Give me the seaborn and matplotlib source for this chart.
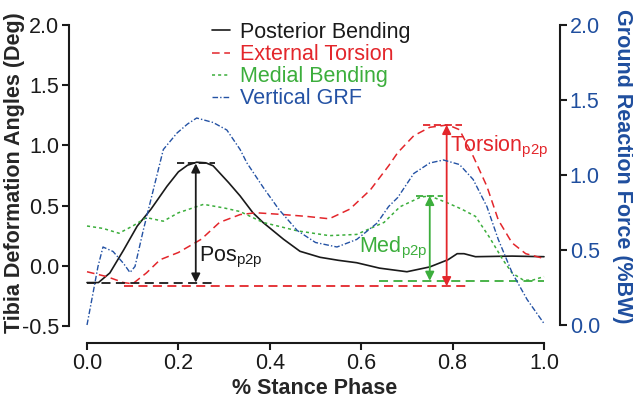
import numpy as np
import pandas as pd
import seaborn as sns
import matplotlib
matplotlib.use("Agg")
import matplotlib.pyplot as plt
from matplotlib.lines import Line2D

# values
pos_x = [0.0, 0.025, 0.05, 0.08, 0.11, 0.14, 0.175, 0.20, 0.22, 0.24, 0.26, 0.276, 0.31, 0.335,
         0.363, 0.385, 0.43, 0.466, 0.51, 0.55, 0.59, 0.64, 0.70, 0.75, 0.79, 0.81, 0.825,
         0.85, 0.93, 1.0]
pos_y = [-0.14, -0.14, -0.06, 0.13, 0.33, 0.47, 0.66, 0.78, 0.835, 0.86, 0.855, 0.83, 0.69, 0.58,
         0.44, 0.36, 0.22, 0.12, 0.07, 0.045, 0.025, -0.02, -0.05, -0.01, 0.05, 0.10, 0.10,
         0.075, 0.08, 0.075]

tor_x = [0.0, 0.043, 0.08, 0.10, 0.13, 0.16, 0.20, 0.25, 0.29, 0.335, 0.37, 0.43, 0.48, 0.53,
         0.575, 0.62, 0.66, 0.68, 0.715, 0.75, 0.79, 0.815, 0.845, 0.875, 0.90, 0.93, 0.96, 1.0]
tor_y = [-0.05, -0.09, -0.14, -0.15, -0.06, 0.05, 0.11, 0.22, 0.36, 0.425, 0.44, 0.425, 0.41, 0.39,
         0.47, 0.63, 0.83, 0.94, 1.08, 1.15, 1.17, 1.13, 0.91, 0.66, 0.38, 0.19, 0.10, 0.06]

med_x = [0.0, 0.035, 0.07, 0.10, 0.13, 0.167, 0.20, 0.255, 0.30, 0.335, 0.385, 0.46, 0.53, 0.59,
         0.65, 0.685, 0.73, 0.75, 0.79, 0.82, 0.85, 0.88, 0.91, 0.93, 0.955, 0.975, 1.0]
med_y = [0.33, 0.31, 0.27, 0.33, 0.40, 0.37, 0.44, 0.51, 0.48, 0.45, 0.36, 0.29, 0.25, 0.26,
         0.36, 0.49, 0.57, 0.58, 0.52, 0.47, 0.41, 0.24, 0.05, -0.06, -0.12, -0.12, -0.09]

grf_x = [0.0, 0.013, 0.024, 0.035, 0.057, 0.08, 0.094, 0.105, 0.123, 0.145, 0.167, 0.197, 0.22,
         0.24, 0.276, 0.306, 0.335, 0.35, 0.385, 0.42, 0.46, 0.50, 0.547, 0.59, 0.635, 0.66,
         0.68, 0.715, 0.75, 0.78, 0.815, 0.845, 0.875, 0.90, 0.93, 0.963, 1.0]
grf_y = [0.0, 0.21, 0.39, 0.52, 0.49, 0.41, 0.35, 0.39, 0.63, 0.90, 1.17, 1.28, 1.34,
         1.38, 1.35, 1.30, 1.17, 1.08, 0.92, 0.77, 0.63, 0.55, 0.52, 0.57, 0.68, 0.79,
         0.85, 1.01, 1.08, 1.10, 1.07, 0.97, 0.79, 0.57, 0.35, 0.17, 0.01]

# peak-to-peak markers: arrow x, low, high, peak line x-range, low line x-range
pos_p2p = [0.238, -0.14, 0.85, (0.197, 0.28), (0.0, 0.276)]
tor_p2p = [0.787, -0.17, 1.17, (0.735, 0.82), (0.08, 0.83)]
med_p2p = [0.75, -0.125, 0.58, (0.72, 0.78), (0.64, 1.0)]

labels = ["Posterior Bending", "External Torsion", "Medial Bending", "Vertical GRF"]

black = "#1a1a1a"
red = "#e3262b"
green = "#3cae3c"
blue = "#2452a4"
axblue = "#1f4e9e"

sns.set_style("ticks")
plt.rcParams["font.family"] = ["Liberation Sans", "DejaVu Sans"]
plt.rcParams["mathtext.fontset"] = "custom"
plt.rcParams["mathtext.rm"] = "Liberation Sans"

fs = 15.5
fig = plt.figure(figsize=(6.33, 4.0), dpi=100)
ax = fig.add_axes([69 / 633, 1 - 343 / 400, (560 - 69) / 633, (343 - 25) / 400])
ax2 = ax.twinx()

sns.lineplot(x=pos_x, y=pos_y, ax=ax, color=black, lw=1.2)
sns.lineplot(x=tor_x, y=tor_y, ax=ax, color=red, lw=1.1, linestyle=(0, (5, 3)))
sns.lineplot(x=med_x, y=med_y, ax=ax, color=green, lw=1.1, linestyle=(0, (2, 2)))
sns.lineplot(x=grf_x, y=grf_y, ax=ax2, color=blue, lw=1.0, linestyle=(0, (4, 1.5, 1, 1.5)))

for p2p, c in [(pos_p2p, black), (tor_p2p, red), (med_p2p, green)]:
    xa, lo, hi, hr, lr = p2p
    ax.hlines(hi, hr[0], hr[1], color=c, lw=1.3, linestyle=(0, (4, 2)))
    ax.hlines(lo, lr[0], lr[1], color=c, lw=1.3, linestyle=(0, (5, 3)))
    ax.annotate("", xy=(xa, hi), xytext=(xa, lo),
                arrowprops=dict(arrowstyle="<|-|>", color=c, lw=1.3,
                                mutation_scale=13, shrinkA=0, shrinkB=0))

ax.text(0.245, 0.07, r"$\mathrm{Pos}_{\mathrm{p2p}}$", color=black, fontsize=fs, va="center")
ax.text(0.595, 0.15, r"$\mathrm{Med}_{\mathrm{p2p}}$", color=green, fontsize=fs, va="center")
ax.text(0.795, 0.99, r"$\mathrm{Torsion}_{\mathrm{p2p}}$", color=red, fontsize=fs, va="center")

ax.set_xlim(-0.0394, 1.035)
ax.set_ylim(-0.642, 2.0)
ax2.set_ylim(-0.12, 2.0)
ax.set_xticks(np.arange(0, 1.01, 0.2))
ax.set_yticks(np.arange(-0.5, 2.01, 0.5))
ax2.set_yticks(np.arange(0, 2.01, 0.5))
fmt = matplotlib.ticker.FormatStrFormatter("%.1f")
ax.xaxis.set_major_formatter(fmt)
ax.yaxis.set_major_formatter(fmt)
ax2.yaxis.set_major_formatter(fmt)

for a in (ax, ax2):
    a.spines["top"].set_visible(False)
    for s in a.spines.values():
        s.set_linewidth(1.5)
        s.set_color(black)
ax.spines["right"].set_visible(False)
ax2.spines["left"].set_visible(False)
ax2.spines["bottom"].set_visible(False)
ax.spines["left"].set_bounds(-0.5, 2.0)
ax.spines["bottom"].set_bounds(0, 1)
ax2.spines["right"].set_bounds(0, 2)

ax.tick_params(labelsize=fs, width=1.5, length=5, pad=2, color=black, labelcolor=black)
ax2.tick_params(labelsize=fs, width=1.5, length=5, pad=2, color=black, labelcolor=axblue)

ax.set_xlabel("% Stance Phase", fontsize=fs, fontweight="bold", labelpad=3)
ax.set_ylabel("Tibia Deformation Angles (Deg)", fontsize=fs, fontweight="bold")
ax.yaxis.set_label_coords(-0.09, 0.535)
ax2.set_ylabel("Ground Reaction Force (%BW)", fontsize=fs, fontweight="bold",
               color=axblue, rotation=270, va="center", ha="center")
ax2.yaxis.set_label_coords((622 - 69) / 491, 0.555)

handles = [
    Line2D([], [], color=black, lw=1.2),
    Line2D([], [], color=red, lw=1.1, linestyle=(0, (5, 3))),
    Line2D([], [], color=green, lw=1.1, linestyle=(0, (2, 2))),
    Line2D([], [], color=blue, lw=1.0, linestyle=(0, (4, 1.5, 1, 1.5))),
]
fig.legend(handles, labels, loc="upper left", bbox_to_anchor=(212 / 633, 1 - 22 / 400),
           frameon=False, fontsize=fs, handlelength=0.85, handletextpad=0.45,
           labelspacing=0.05, borderpad=0, borderaxespad=0, labelcolor="linecolor")

fig.savefig("out.png", dpi=100)
